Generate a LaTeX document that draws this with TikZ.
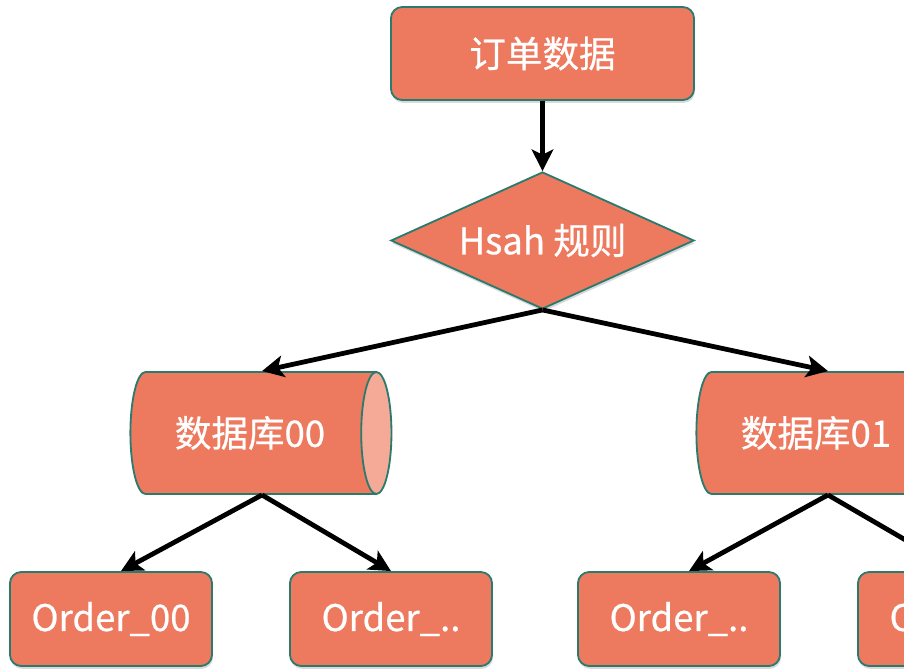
\documentclass[tikz,border=0pt]{standalone}
\usepackage{fontspec}
\newfontfamily\cjk[FakeBold=0.6]{Noto Sans CJK SC}
\usepackage{tikz}
\usetikzlibrary{shapes.geometric, arrows.meta, shadows}
\definecolor{osalmon}{HTML}{ED7A5F}
\definecolor{olight}{HTML}{F4AA96}
\definecolor{oteal}{HTML}{2A7A6E}
\tikzset{
  lbl/.style={text=white, font=\cjk\fontsize{26}{31}\selectfont},
  shade/.style={drop shadow={opacity=0.3, shadow xshift=0.6pt, shadow yshift=-2pt}},
  box/.style={rectangle, rounded corners=8pt, draw=oteal, line width=1.3pt, fill=osalmon,
              minimum width=7.575cm, minimum height=2.325cm, lbl, shade},
  leaf/.style={box, minimum width=5.05cm, minimum height=2.35cm},
  rule/.style={diamond, aspect=2.2, draw=oteal, line width=1.3pt, fill=osalmon, inner sep=0pt,
               minimum width=7.575cm, minimum height=3.425cm, lbl, shade},
  db/.style={cylinder, draw=oteal, line width=1.3pt, aspect=0.7, cylinder uses custom fill,
             cylinder body fill=osalmon, cylinder end fill=olight,
             minimum width=3.05cm, minimum height=6.525cm, lbl},
  flow/.style={-{Stealth[length=5.4mm, width=5.4mm, inset=1.3mm]}, draw=black, line width=3.4pt}
}

\begin{document}
\begin{tikzpicture}[x=0.025cm, y=-0.025cm]
  \useasboundingbox (0,0) rectangle (904,672);
  \clip (0,0) rectangle (904,672);
  \node[box] (orders) at (542.5,53.5) {订单数据};
  \node[rule] (hash) at (542.5,240.5) {Hsah 规则};
  \node[db] (db0) at (250,433) {数据库00};
  \node[db] (db1) at (816,433) {数据库01};
  \node[leaf] (t00) at (111,619) {Order\_00};
  \node[leaf] (t01) at (391,619) {Order\_..};
  \node[leaf] (t10) at (679,619) {Order\_..};
  \node[leaf] (t11) at (959,619) {Order\_..};
  % arrows meet the cylinders a bit right of the body middle
  \coordinate (db0top) at ([xshift=0.3cm]db0.north);
  \coordinate (db0bot) at ([xshift=0.3cm]db0.south);
  \coordinate (db1top) at ([xshift=0.3cm]db1.north);
  \coordinate (db1bot) at ([xshift=0.3cm]db1.south);

  \draw[flow] (orders) -- (hash);
  \draw[flow] (hash.south) -- (db0top);
  \draw[flow] (hash.south) -- (db1top);
  \draw[flow] (db0bot) -- ([xshift=0.25cm]t00.north);
  \draw[flow] (db0bot) -- (t01.north);
  \draw[flow] (db1bot) -- ([xshift=0.25cm]t10.north);
  \draw[flow] (db1bot) -- (t11.north);
\end{tikzpicture}
\end{document}
